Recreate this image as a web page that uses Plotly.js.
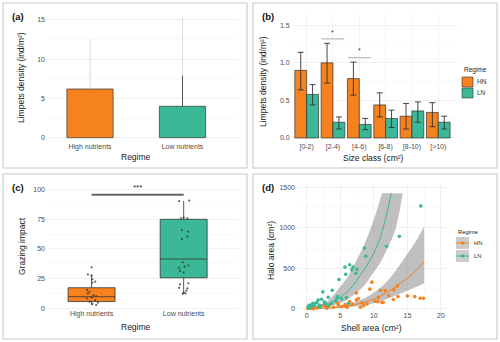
<!DOCTYPE html>
<html><head><meta charset="utf-8">
<script src="https://cdn.plot.ly/plotly-3.0.1.min.js"></script>
<style>html,body{margin:0;padding:0;background:#fff}#chart{width:500px;height:342px}</style>
</head><body><div id="chart"></div>
<script>
// ---------- data ----------
// (a) limpet density by regime
const regimes = ['High nutrients', 'Low nutrients'];
const densityMean = [6.2, 4.0];
const densityUpperLight = [12.45, 15.2];
const densityUpperDark = [null, 7.9];

// (b) density by size class
const sizeClasses = ['[0-2)', '[2-4)', '[4-6)', '[6-8)', '[8-10)', '[>10)'];
const hnDensity = [0.90, 1.00, 0.79, 0.44, 0.29, 0.34];
const hnUpper   = [1.14, 1.26, 1.01, 0.60, 0.46, 0.47];
const hnLower   = [0.64, 0.73, 0.57, 0.28, 0.12, 0.15];
const lnDensity = [0.58, 0.21, 0.18, 0.26, 0.36, 0.21];
const lnUpper   = [0.71, 0.28, 0.26, 0.37, 0.48, 0.29];
const lnLower   = [0.44, 0.12, 0.11, 0.14, 0.21, 0.12];
const sigClassIdx = [1, 2];
const sigLineY = [1.32, 1.07];

// (c) grazing impact boxes
const boxQ1 = [5.5, 25.6];
const boxMedian = [9.6, 41.5];
const boxQ3 = [17.2, 75.1];
const boxLow = [2.5, 12.0];
const boxHigh = [28.5, 90.7];
const hnImpact = [34.5, 28.5, 27.4, 24.3, 22.3, 21.4, 15.3, 13.8, 12.4, 11.0, 10.2, 8.8, 8.2, 6.8, 5.4, 4.5, 3.4, 2.5];
const hnJitter = [0.00, -0.04, 0.00, 0.01, 0.04, 0.01, -0.05, -0.02, -0.04, 0.02, 0.05, 0.00, -0.05, 0.04, -0.02, 0.07, 0.01, 0.05];
const lnImpact = [90.5, 91.0, 76.0, 76.5, 76.0, 66.0, 64.7, 60.5, 58.5, 38.7, 36.0, 35.0, 34.0, 31.4, 30.0, 21.0, 20.0, 17.0, 16.7, 14.7, 13.0, 12.4, 12.0];
const lnJitter = [-0.05, 0.06, -0.03, 0.00, 0.04, -0.02, 0.05, 0.04, -0.02, -0.01, 0.05, 0.01, -0.05, -0.04, 0.00, 0.05, -0.04, -0.05, 0.04, 0.03, 0.00, 0.02, -0.01];
const sigImpactY = 96;

// (d) halo area vs shell area
const hnShell = [0.2, 0.7, 1.0, 1.5, 2.0, 2.5, 2.9, 3.0, 3.5, 4.0, 4.6, 4.7, 5.2, 5.7, 5.7, 6.0, 6.0, 6.4, 6.8, 7.4, 7.4, 7.7, 8.0, 8.2, 8.5, 9.0, 9.4, 9.7, 10.2, 10.6, 10.7, 11.0, 11.2, 11.4, 11.7, 12.2, 12.9, 13.0, 13.5, 13.6, 15.0, 16.1, 16.9, 17.4];
const hnHalo  = [5, 8, 2, 12, 25, 41, 28, 10, 54, 20, 74, 49, 30, 37, 54, 21, 33, 90, 60, 111, 198, 128, 20, 74, 40, 62, 244, 330, 95, 90, 145, 226, 78, 83, 226, 164, 116, 235, 284, 152, 161, 152, 132, 132];
const lnShell = [0.2, 0.4, 0.5, 0.8, 0.9, 1.0, 1.2, 1.5, 1.7, 1.9, 2.0, 2.2, 2.4, 2.6, 2.7, 2.8, 3.2, 3.3, 3.7, 3.8, 4.3, 4.5, 4.6, 4.8, 5.2, 5.7, 5.8, 5.9, 6.2, 6.4, 6.7, 6.9, 7.3, 7.5, 8.6, 8.8, 11.9, 13.8, 17.0];
const lnHalo  = [28, 49, 10, 49, 70, 35, 62, 80, 111, 49, 20, 120, 210, 86, 83, 60, 145, 40, 70, 230, 98, 130, 152, 362, 123, 515, 428, 140, 70, 545, 482, 515, 440, 490, 750, 650, 772, 895, 1270];
const lnFitX = [0, 1, 2, 3, 4, 5, 6, 7, 8, 9, 10, 11, 12, 12.6];
const lnFitY = [18, 25, 36, 55, 90, 145, 205, 300, 420, 540, 690, 890, 1200, 1425];
const lnUpX = [0, 1, 2, 3, 3.5, 4, 5, 6, 7.2, 8.4, 9.45, 10.4, 11.2];
const lnUpY = [30, 40, 55, 90, 130, 170, 276, 380, 564, 760, 976, 1200, 1425];
const lnLoX = [0, 2, 4, 5, 6, 6.7, 8.45, 9.7, 10.9, 12.1, 13.2, 14.3];
const lnLoY = [8, 18, 45, 70, 110, 152, 276, 420, 564, 760, 976, 1425];
const hnFitX = [0, 2, 4, 6, 8, 10, 12, 14, 16, 17.5];
const hnFitY = [0, 5, 15, 35, 70, 120, 205, 320, 450, 584];
const hnUpX = [0, 2, 4, 6, 8, 10, 12, 14, 16, 17.5];
const hnUpY = [3, 10, 25, 55, 110, 200, 340, 560, 800, 1017];
const hnLoX = [0, 2, 4, 6, 8, 10, 12, 14, 16, 17.5];
const hnLoY = [0, 2, 8, 20, 40, 70, 125, 190, 260, 317];

// ---------- style ----------
const ORANGE = '#F5811F', TEAL = '#3BB896';
const FONT = 'Liberation Sans, Arial, sans-serif';
const W = 500, H = 342;
const px = v => v / W, py = v => 1 - v / H;

const base = {
  zeroline: false, showline: false, ticks: '',
  tickfont: {family: FONT, size: 7, color: '#4D4D4D'},
  gridcolor: '#EBEBEB', gridwidth: 0.7, fixedrange: true
};
const xb = Object.assign({}, base, {ticklabelstandoff: -3});
const yb = Object.assign({}, base, {ticklabelstandoff: 2});
const minorGrid = d => ({dtick: d, showgrid: true, gridcolor: '#F4F4F4', gridwidth: 0.5});

const traces = [];
// (a)
traces.push({type: 'bar', x: regimes, y: densityMean, xaxis: 'x', yaxis: 'y', width: 0.5,
  marker: {color: [ORANGE, TEAL], line: {color: '#333', width: 0.7}}, hoverinfo: 'skip', showlegend: false});
traces.push({type: 'scatter', mode: 'markers', x: regimes, y: densityMean, xaxis: 'x', yaxis: 'y',
  marker: {size: 1, opacity: 0}, showlegend: false, hoverinfo: 'skip',
  error_y: {type: 'data', symmetric: false, array: densityUpperLight.map((u, i) => u - densityMean[i]),
    arrayminus: [0, 0], width: 0, color: '#CFCFCF', thickness: 0.8}});
traces.push({type: 'scatter', mode: 'markers', x: [regimes[1]], y: [densityMean[1]], xaxis: 'x', yaxis: 'y',
  marker: {size: 1, opacity: 0}, showlegend: false, hoverinfo: 'skip',
  error_y: {type: 'data', symmetric: false, array: [densityUpperDark[1] - densityMean[1]],
    arrayminus: [0], width: 0, color: '#444', thickness: 0.9}});
// (b)
[[hnDensity, hnUpper, hnLower, ORANGE, 'HN'], [lnDensity, lnUpper, lnLower, TEAL, 'LN']].forEach(([m, u, l, c, n]) => {
  traces.push({type: 'bar', name: n, x: sizeClasses, y: m, xaxis: 'x2', yaxis: 'y2',
    marker: {color: c, line: {color: '#333', width: 0.7}}, showlegend: false, hoverinfo: 'skip',
    error_y: {type: 'data', symmetric: false, array: u.map((v, i) => v - m[i]), arrayminus: l.map((v, i) => m[i] - v),
      color: '#333', thickness: 0.9, width: 3}});
});
// (c)
[[0, ORANGE, 'High nutrients'], [1, TEAL, 'Low nutrients']].forEach(([i, c, n]) => {
  traces.push({type: 'box', name: n, x: [i + 1], q1: [boxQ1[i]], median: [boxMedian[i]], q3: [boxQ3[i]],
    lowerfence: [boxLow[i]], upperfence: [boxHigh[i]], xaxis: 'x3', yaxis: 'y3', width: 0.51, whiskerwidth: 0,
    fillcolor: c, line: {color: '#333', width: 0.8}, boxpoints: false, showlegend: false, hoverinfo: 'skip'});
});
traces.push({type: 'scatter', mode: 'markers', x: hnJitter.map(d => 1 + d), y: hnImpact, xaxis: 'x3', yaxis: 'y3',
  marker: {size: 2.2, color: 'rgba(50,50,50,0.75)'}, showlegend: false, hoverinfo: 'skip'});
traces.push({type: 'scatter', mode: 'markers', x: lnJitter.map(d => 2 + d), y: lnImpact, xaxis: 'x3', yaxis: 'y3',
  marker: {size: 2.2, color: 'rgba(50,50,50,0.75)'}, showlegend: false, hoverinfo: 'skip'});
// (d)
const ribbon = 'rgba(150,150,150,0.6)';
[[lnLoX, lnLoY, lnUpX, lnUpY], [hnLoX, hnLoY, hnUpX, hnUpY]].forEach(([lx, ly, ux, uy]) => {
  traces.push({type: 'scatter', mode: 'lines', x: lx, y: ly, xaxis: 'x4', yaxis: 'y4',
    line: {width: 0, shape: 'spline'}, showlegend: false, hoverinfo: 'skip'});
  traces.push({type: 'scatter', mode: 'lines', x: ux, y: uy, xaxis: 'x4', yaxis: 'y4', fill: 'tonexty',
    fillcolor: ribbon, line: {width: 0, shape: 'spline'}, showlegend: false, hoverinfo: 'skip'});
});
traces.push({type: 'scatter', mode: 'lines', name: 'LN', x: lnFitX, y: lnFitY, xaxis: 'x4', yaxis: 'y4',
  line: {color: TEAL, width: 1, shape: 'spline'}, showlegend: false, hoverinfo: 'skip'});
traces.push({type: 'scatter', mode: 'lines', name: 'HN', x: hnFitX, y: hnFitY, xaxis: 'x4', yaxis: 'y4',
  line: {color: ORANGE, width: 1, shape: 'spline'}, showlegend: false, hoverinfo: 'skip'});
traces.push({type: 'scatter', mode: 'markers', name: 'HN', x: hnShell, y: hnHalo, xaxis: 'x4', yaxis: 'y4',
  marker: {size: 3.6, color: ORANGE}, showlegend: false, hoverinfo: 'skip'});
traces.push({type: 'scatter', mode: 'markers', name: 'LN', x: lnShell, y: lnHalo, xaxis: 'x4', yaxis: 'y4',
  marker: {size: 3.6, color: TEAL}, showlegend: false, hoverinfo: 'skip'});

// ---------- annotations & shapes ----------
const ann = [];
const txt = (t, x, y, o = {}) => ann.push(Object.assign({text: t, x: px(x), y: py(y), xref: 'paper', yref: 'paper',
  xanchor: 'center', yanchor: 'middle', showarrow: false, font: {family: FONT, size: 8.5, color: '#1A1A1A'}}, o));
const lab = {family: FONT, size: 9.5, color: '#111'};
txt('<b>(a)</b>', 17.5, 16, {font: lab});
txt('<b>(b)</b>', 267.5, 16, {font: lab});
txt('<b>(c)</b>', 17.5, 187, {font: lab});
txt('<b>(d)</b>', 267.5, 187, {font: lab});
txt('Limpets density (ind/m²)', 21, 78, {textangle: -90});
txt('Regime', 136, 157);
txt('Limpets density (ind/m²)', 263, 82, {textangle: -90});
txt('Size class (cm²)', 373, 158);
txt('Grazing impact', 22, 246, {textangle: -90});
txt('Regime', 136, 327);
txt('Halo area (cm²)', 271, 251, {textangle: -90});
txt('Shell area (cm²)', 371, 328);
// significance labels
sigClassIdx.forEach((ci, k) => ann.push({text: '*', x: ci, y: sigLineY[k] + 0.015, xref: 'x2', yref: 'y2',
  xanchor: 'center', yanchor: 'bottom', showarrow: false, font: {family: FONT, size: 7, color: '#333'}}));
ann.push({text: '***', x: 1.5, y: sigImpactY + 0.5, xref: 'x3', yref: 'y3', xanchor: 'center', yanchor: 'bottom', showarrow: false,
  font: {family: FONT, size: 8, color: '#222'}});
// legend (b)
txt('Regime', 462, 70, {xanchor: 'left', font: {family: FONT, size: 6.5, color: '#1A1A1A'}});
txt('HN', 475, 82, {xanchor: 'left', font: {family: FONT, size: 6.5, color: '#333'}});
txt('LN', 475, 93, {xanchor: 'left', font: {family: FONT, size: 6.5, color: '#333'}});
// legend (d)
txt('Regime', 456, 232, {xanchor: 'left', font: {family: FONT, size: 5.8, color: '#1A1A1A'}});
txt('HN', 472, 243, {xanchor: 'left', font: {family: FONT, size: 5.8, color: '#333'}});
txt('LN', 472, 256, {xanchor: 'left', font: {family: FONT, size: 5.8, color: '#333'}});

const shapes = [];
const rectPx = (x0, y0, x1, y1, o) => shapes.push(Object.assign({type: 'rect', xref: 'paper', yref: 'paper',
  x0: px(x0), x1: px(x1), y0: py(y1), y1: py(y0)}, o));
[[3, 3, 247, 168], [253, 3, 497, 168], [3, 174, 247, 339], [253, 174, 497, 339]].forEach(r =>
  rectPx(r[0], r[1], r[2], r[3], {line: {color: '#DADADA', width: 1.6}, layer: 'below'}));
sigClassIdx.forEach((ci, k) => shapes.push({type: 'line', xref: 'x2', yref: 'y2', x0: ci - 0.43, x1: ci + 0.43,
  y0: sigLineY[k], y1: sigLineY[k], line: {color: '#BBBBBB', width: 1.2}}));
shapes.push({type: 'line', xref: 'x3', yref: 'y3', x0: 1, x1: 2, y0: sigImpactY, y1: sigImpactY,
  line: {color: '#666', width: 2}});
// legend keys (b)
rectPx(462, 77, 473, 87, {fillcolor: ORANGE, line: {color: '#333', width: 0.6}});
rectPx(462, 88, 473, 98, {fillcolor: TEAL, line: {color: '#333', width: 0.6}});
// legend keys (d)
[[243, ORANGE], [256, TEAL]].forEach(([cy, c]) => {
  rectPx(456, cy - 6, 469, cy + 6, {fillcolor: '#CCCCCC', line: {width: 0}});
  shapes.push({type: 'line', xref: 'paper', yref: 'paper', x0: px(456), x1: px(469), y0: py(cy), y1: py(cy),
    line: {color: c, width: 1}});
  shapes.push({type: 'circle', xref: 'paper', yref: 'paper', x0: px(460.8), x1: px(464.2), y0: py(cy + 1.7),
    y1: py(cy - 1.7), fillcolor: c, line: {width: 0}});
});

const layout = {
  width: W, height: H, margin: {l: 0, r: 0, t: 0, b: 0}, paper_bgcolor: '#fff', plot_bgcolor: '#fff',
  showlegend: false, barmode: 'group', bargap: 0.1, bargroupgap: 0, font: {family: FONT},
  xaxis: Object.assign({}, xb, {domain: [px(48), px(238)], type: 'category', range: [-0.454, 1.6], showgrid: false, anchor: 'y'}),
  yaxis: Object.assign({}, yb, {domain: [py(144), py(14)], range: [-0.8, 15.75], dtick: 5, tick0: 0, minor: minorGrid(2.5), anchor: 'x'}),
  xaxis2: Object.assign({}, xb, {domain: [px(292.7), px(456.7)], type: 'category', range: [-0.53, 5.7], showgrid: true, gridcolor: '#F0F0F0', anchor: 'y2'}),
  yaxis2: Object.assign({}, yb, {domain: [py(144), py(14)], range: [-0.08, 1.65], dtick: 0.5, tick0: 0, tickformat: '.1f', minor: minorGrid(0.25), anchor: 'x2'}),
  xaxis3: Object.assign({}, xb, {domain: [px(48), px(238)], range: [0.527, 2.59], tickvals: [1, 2], ticktext: regimes, showgrid: false, anchor: 'y3'}),
  yaxis3: Object.assign({}, yb, {domain: [py(311), py(184)], range: [-2.5, 105], dtick: 25, tick0: 0, minor: minorGrid(12.5), anchor: 'x3'}),
  xaxis4: Object.assign({}, xb, {domain: [px(298), px(447)], range: [-1.3, 20.9], dtick: 5, tick0: 0, minor: minorGrid(2.5), anchor: 'y4'}),
  yaxis4: Object.assign({}, yb, {domain: [py(313), py(184)], range: [-50, 1540], dtick: 500, tick0: 0, minor: minorGrid(250), anchor: 'x4'}),
  annotations: ann, shapes: shapes
};
Plotly.newPlot('chart', traces, layout, {staticPlot: true, displayModeBar: false});
</script></body></html>
